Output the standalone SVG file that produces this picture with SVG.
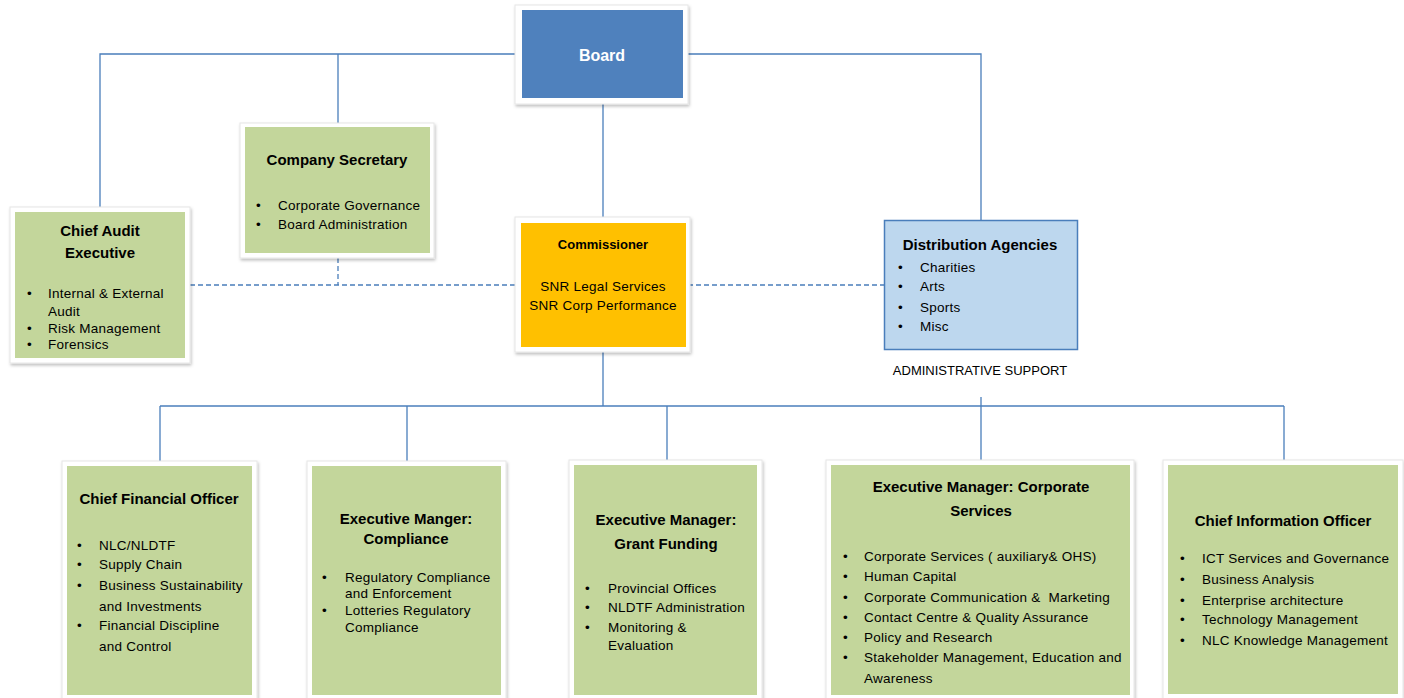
<svg xmlns="http://www.w3.org/2000/svg" width="1404" height="698" viewBox="0 0 1404 698">
<defs>
<filter id="sh" x="-10%" y="-10%" width="120%" height="120%">
<feDropShadow dx="1" dy="2" stdDeviation="1.5" flood-color="#000" flood-opacity="0.25"/>
</filter>
</defs>
<style>
text{font-family:"Liberation Sans",Arial,sans-serif;fill:#000}
.frame{fill:#fff;stroke:#e6e6e6;stroke-width:1;filter:url(#sh)}
.green{fill:#C3D69B}
.t{font-weight:bold;font-size:15px;text-anchor:middle}
.b{font-size:13.5px;letter-spacing:0.25px}
.c{fill:none;stroke:#4A7EBB;stroke-width:1.3}
.d{fill:none;stroke:#4A7EBB;stroke-width:1.3;stroke-dasharray:5,3}
</style>
<rect width="1404" height="698" fill="#fff"/>
<g id="connectors">
<polyline class="c" points="100,207 100,54 522,54"/>
<line class="c" x1="338" y1="54" x2="338" y2="127"/>
<polyline class="c" points="683,54 981,54 981,221"/>
<line class="c" x1="603" y1="98" x2="603" y2="223"/>
<line class="d" x1="190" y1="285" x2="517" y2="285"/>
<line class="d" x1="338" y1="258" x2="338" y2="285"/>
<line class="d" x1="688" y1="285" x2="884" y2="285"/>
<line class="c" x1="981" y1="397" x2="981" y2="406"/>
<line class="c" x1="603" y1="347" x2="603" y2="406"/>
<line class="c" x1="160" y1="406" x2="1284" y2="406"/>
<line class="c" x1="160" y1="406" x2="160" y2="466"/>
<line class="c" x1="407" y1="406" x2="407" y2="466"/>
<line class="c" x1="667" y1="406" x2="667" y2="465"/>
<line class="c" x1="981" y1="406" x2="981" y2="465"/>
<line class="c" x1="1284" y1="406" x2="1284" y2="465"/>
</g>
<g id="board">
<rect class="frame" x="515" y="5" width="173" height="99"/>
<rect x="522" y="10" width="161" height="88" fill="#4F81BD"/>
<text x="602" y="61" style="fill:#fff;font-weight:bold;font-size:16px;text-anchor:middle">Board</text>
</g>
<g id="company-secretary">
<rect class="frame" x="240" y="123" width="194" height="135"/>
<rect class="green" x="245" y="127" width="185" height="126"/>
<text class="t" x="337" y="165">Company Secretary</text>
<text class="b" x="256" y="210">•</text><text class="b" x="278" y="210">Corporate Governance</text>
<text class="b" x="256" y="229">•</text><text class="b" x="278" y="229">Board Administration</text>
</g>
<g id="chief-audit">
<rect class="frame" x="10" y="207" width="180" height="156"/>
<rect class="green" x="15" y="212" width="170" height="146"/>
<text class="t" x="100" y="236">Chief Audit</text>
<text class="t" x="100" y="258">Executive</text>
<text class="b" x="27" y="298">•</text><text class="b" x="48" y="298">Internal &amp; External</text>
<text class="b" x="48" y="316">Audit</text>
<text class="b" x="27" y="333">•</text><text class="b" x="48" y="333">Risk Management</text>
<text class="b" x="27" y="349">•</text><text class="b" x="48" y="349">Forensics</text>
</g>
<g id="commissioner">
<rect class="frame" x="515" y="217" width="175" height="135"/>
<rect x="521" y="223" width="165" height="124" fill="#FFC000"/>
<text x="603" y="249" style="font-weight:bold;font-size:13px;text-anchor:middle">Commissioner</text>
<text class="b" x="603" y="291" text-anchor="middle">SNR Legal Services</text>
<text class="b" x="603" y="310" text-anchor="middle">SNR Corp Performance</text>
</g>
<g id="distribution-agencies">
<rect x="884.5" y="220.5" width="193" height="129" fill="#BDD7EE" stroke="#4A7EBB" stroke-width="1.5"/>
<text class="t" x="980" y="250">Distribution Agencies</text>
<text class="b" x="898" y="272">•</text><text class="b" x="920" y="272">Charities</text>
<text class="b" x="898" y="291">•</text><text class="b" x="920" y="291">Arts</text>
<text class="b" x="898" y="312">•</text><text class="b" x="920" y="312">Sports</text>
<text class="b" x="898" y="331">•</text><text class="b" x="920" y="331">Misc</text>
<text x="980" y="375" style="font-size:13px;text-anchor:middle">ADMINISTRATIVE SUPPORT</text>
</g>
<g id="cfo">
<rect class="frame" x="62" y="461" width="195" height="240"/>
<rect class="green" x="67" y="466" width="185" height="229"/>
<text class="t" x="159" y="504">Chief Financial Officer</text>
<text class="b" x="77" y="550">•</text><text class="b" x="99" y="550">NLC/NLDTF</text>
<text class="b" x="77" y="569">•</text><text class="b" x="99" y="569">Supply Chain</text>
<text class="b" x="77" y="590">•</text><text class="b" x="99" y="590">Business Sustainability</text>
<text class="b" x="99" y="611">and Investments</text>
<text class="b" x="77" y="630">•</text><text class="b" x="99" y="630">Financial Discipline</text>
<text class="b" x="99" y="651">and Control</text>
</g>
<g id="compliance">
<rect class="frame" x="307" y="461" width="199" height="240"/>
<rect class="green" x="312" y="466" width="189" height="229"/>
<text class="t" x="406" y="524">Executive Manger:</text>
<text class="t" x="406" y="544">Compliance</text>
<text class="b" x="322" y="582">•</text><text class="b" x="345" y="582">Regulatory Compliance</text>
<text class="b" x="345" y="598">and Enforcement</text>
<text class="b" x="322" y="615">•</text><text class="b" x="345" y="615">Lotteries Regulatory</text>
<text class="b" x="345" y="632">Compliance</text>
</g>
<g id="grant-funding">
<rect class="frame" x="569" y="460" width="193" height="241"/>
<rect class="green" x="574" y="465" width="183" height="230"/>
<text class="t" x="666" y="525">Executive Manager:</text>
<text class="t" x="666" y="549">Grant Funding</text>
<text class="b" x="585" y="593">•</text><text class="b" x="608" y="593">Provincial Offices</text>
<text class="b" x="585" y="612">•</text><text class="b" x="608" y="612">NLDTF Administration</text>
<text class="b" x="585" y="632">•</text><text class="b" x="608" y="632">Monitoring &amp;</text>
<text class="b" x="608" y="650">Evaluation</text>
</g>
<g id="corporate-services">
<rect class="frame" x="826" y="460" width="308" height="241"/>
<rect class="green" x="831" y="465" width="299" height="230"/>
<text class="t" x="981" y="492">Executive Manager: Corporate</text>
<text class="t" x="981" y="516">Services</text>
<text class="b" x="843" y="561">•</text><text class="b" x="864" y="561">Corporate Services ( auxiliary&amp; OHS)</text>
<text class="b" x="843" y="581">•</text><text class="b" x="864" y="581">Human Capital</text>
<text class="b" x="843" y="602">•</text><text class="b" x="864" y="602" xml:space="preserve">Corporate Communication &amp;  Marketing</text>
<text class="b" x="843" y="622">•</text><text class="b" x="864" y="622">Contact Centre &amp; Quality Assurance</text>
<text class="b" x="843" y="642">•</text><text class="b" x="864" y="642">Policy and Research</text>
<text class="b" x="843" y="662">•</text><text class="b" x="864" y="662">Stakeholder Management, Education and</text>
<text class="b" x="864" y="683">Awareness</text>
</g>
<g id="cio">
<rect class="frame" x="1163" y="460" width="240" height="241"/>
<rect class="green" x="1168" y="465" width="230" height="229"/>
<text class="t" x="1283" y="526">Chief Information Officer</text>
<text class="b" x="1180" y="563">•</text><text class="b" x="1202" y="563">ICT Services and Governance</text>
<text class="b" x="1180" y="584">•</text><text class="b" x="1202" y="584">Business Analysis</text>
<text class="b" x="1180" y="605">•</text><text class="b" x="1202" y="605">Enterprise architecture</text>
<text class="b" x="1180" y="624">•</text><text class="b" x="1202" y="624">Technology Management</text>
<text class="b" x="1180" y="645">•</text><text class="b" x="1202" y="645">NLC Knowledge Management</text>
</g>
</svg>
